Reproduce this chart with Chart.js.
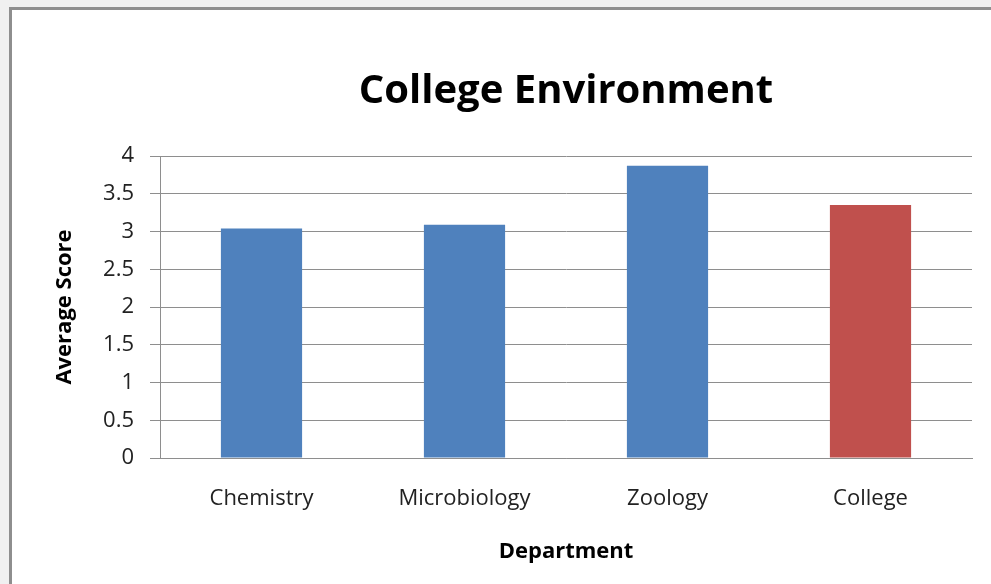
<!DOCTYPE html>
<html>
<head>
<meta charset="utf-8">
<script src="https://cdn.jsdelivr.net/npm/chart.js@4"></script>
<style>
    html, body { margin: 0; padding: 0; background: #f0f0f0; overflow: hidden; }
    .frame {
        position: absolute; left: 9px; top: 7px; width: 1000px; height: 600px;
        background: #fff; border-left: 3px solid #8e8e8e; border-top: 3px solid #8e8e8e;
    }
    .chart-box { position: absolute; left: 0; top: 0; width: 991px; height: 584px; }
</style>
</head>
<body>
<div class="frame"></div>
<div class="chart-box"><canvas id="deptChart" width="991" height="584"></canvas></div>
<script>
// Chart data
const departments = ['Chemistry', 'Microbiology', 'Zoology', 'College'];
const averageScores = [3.04, 3.09, 3.87, 3.35];
const barColors = ['#4f81bd', '#4f81bd', '#4f81bd', '#c0504d'];
const yTicks = [0, 0.5, 1, 1.5, 2, 2.5, 3, 3.5, 4];

const labelFont = "Open Sans, 'DejaVu Sans', sans-serif";

document.addEventListener('DOMContentLoaded', function() {
    initChart();
});

function initChart() {
    const ctx = document.getElementById('deptChart');
    new Chart(ctx, {
        type: 'bar',
        data: {
            labels: departments,
            datasets: [{
                data: averageScores,
                backgroundColor: barColors,
                borderWidth: 0,
                barPercentage: 0.8,
                categoryPercentage: 0.5
            }]
        },
        options: {
            responsive: false,
            animation: false,
            layout: {
                padding: { left: 0, right: 19, top: 0, bottom: 0 }
            },
            plugins: {
                legend: { display: false },
                tooltip: { enabled: false },
                title: {
                    display: true,
                    fullSize: false,
                    text: 'College Environment',
                    color: '#000',
                    font: { family: labelFont, size: 40, weight: 'bold', lineHeight: 1.2 },
                    padding: { top: 68, bottom: 40 }
                }
            },
            scales: {
                x: {
                    grid: { display: false, drawTicks: false },
                    border: { display: true, color: '#8e8e8e', width: 1 },
                    ticks: {
                        color: '#222',
                        padding: 28,
                        font: { family: labelFont, size: 22 }
                    },
                    title: {
                        display: true,
                        text: 'Department',
                        color: '#000',
                        font: { family: labelFont, size: 22, weight: 'bold', lineHeight: 1.2 },
                        padding: { top: 0, bottom: 19 }
                    },
                    afterFit: function(scale) { scale.height = 126; }
                },
                y: {
                    min: 0,
                    max: 4,
                    afterBuildTicks: function(scale) {
                        scale.ticks = yTicks.map(v => ({ value: v }));
                    },
                    grid: {
                        color: '#8e8e8e',
                        lineWidth: 1,
                        drawTicks: true,
                        tickLength: 10
                    },
                    border: { display: true, color: '#8e8e8e', width: 1 },
                    ticks: {
                        color: '#222',
                        padding: 16,
                        font: { family: labelFont, size: 22 },
                        callback: function(value) { return String(value); }
                    },
                    title: {
                        display: true,
                        text: 'Average Score',
                        color: '#000',
                        font: { family: labelFont, size: 22, weight: 'bold', lineHeight: 1.2 },
                        padding: { top: 52, bottom: 0 }
                    },
                    afterFit: function(scale) { scale.width = 160; }
                }
            }
        }
    });
}
</script>
</body>
</html>
